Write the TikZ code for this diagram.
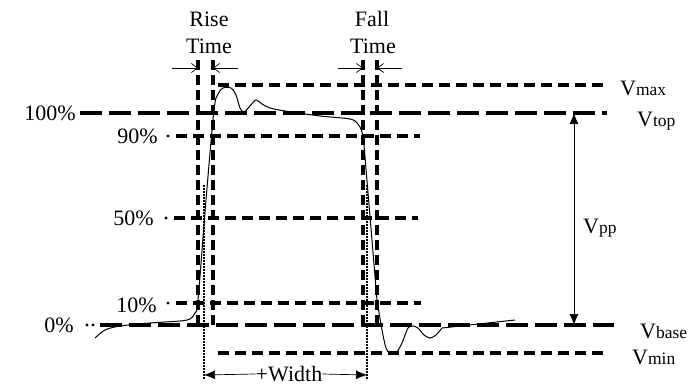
\documentclass[tikz,border=0pt]{standalone}
\usepackage{fontspec}
\setmainfont{Liberation Serif}
\usetikzlibrary{arrows.meta}
\tikzset{
  shortdash/.style={line width=3.2pt, dash pattern=on 11pt off 6pt},
  longdash/.style={line width=3.2pt, dash pattern=on 22pt off 7pt},
  vdash/.style={line width=3.2pt, dash pattern=on 10pt off 5pt},
  dotline/.style={line width=2.6pt, dash pattern=on 1.6pt off 1.4pt},
  sig/.style={line width=1pt},
  lbl/.style={font=\fontsize{22}{26}\selectfont, inner sep=0pt},
  tmarrow/.style={line width=0.7pt, -{Straight Barb[length=6pt,width=9pt]}},
  bigarrow/.style={line width=0.7pt, -{Latex[length=11pt,width=9pt]}},
}
\newcommand{\vlab}[1]{V{\fontsize{17.5}{17.5}\selectfont #1}}
\begin{document}
\begin{tikzpicture}[x=1pt,y=-1pt]
\useasboundingbox (0,0) rectangle (689,388);
% labels top
\node[lbl,anchor=base] (rise) at (209,27) {Rise};
\node[lbl,anchor=base] (riset) at (209,53) {Time};
\node[lbl,anchor=base] (fall) at (372,27) {Fall};
\node[lbl,anchor=base] (fallt) at (373,53) {Time};
% percent labels
\node[lbl,anchor=base east] (p100) at (76,120) {100\%};
\node[lbl,anchor=base east] (p90) at (158,143) {90\%};
\node[lbl,anchor=base east] (p50) at (154,225) {50\%};
\node[lbl,anchor=base east] (p10) at (157,312) {10\%};
\node[lbl,anchor=base east] (p0) at (74,332) {0\%};
% V labels
\node[lbl,anchor=base west] (vmax) at (620,95) {\vlab{max}};
\node[lbl,anchor=base west] (vtop) at (637,126) {\vlab{top}};
\node[lbl,anchor=base west] (vpp) at (583,233) {\vlab{pp}};
\node[lbl,anchor=base west] (vbase) at (640,338) {\vlab{base}};
\node[lbl,anchor=base west] (vmin) at (632,364) {\vlab{min}};
% coordinates
\coordinate (maxL) at (218,85);  \coordinate (maxR) at (605,85);
\coordinate (topL) at (80,113);  \coordinate (topR) at (607,113);
\coordinate (n90L) at (176,136); \coordinate (n90R) at (420,136);
\coordinate (n50L) at (174,218); \coordinate (n50R) at (418,218);
\coordinate (n10L) at (176,303); \coordinate (n10R) at (421,303);
\coordinate (baseL) at (100,325); \coordinate (baseR) at (614,325);
\coordinate (minL) at (218,353); \coordinate (minR) at (605,353);
% horizontal reference lines
\draw[shortdash] (maxL) -- (maxR);
\draw[longdash] (topL) -- (topR);
\draw[shortdash] (n90L) -- (n90R);
\draw[shortdash] (n50L) -- (n50R);
\draw[shortdash] (n10L) -- (n10R);
\draw[longdash] (baseL) -- (baseR);
\draw[shortdash] (minL) -- (minR);
% leading dots
\fill (168,136) circle (1.7);
\fill (166,218) circle (1.7);
\fill (168,303) circle (1.7);
\fill (87,325) circle (1.7);
\fill (93,325) circle (1.7);
% vertical dashed lines
\foreach \x/\n in {198/ra,213/rb,363/fa,377/fb}{
  \coordinate (\n t) at (\x,60);
  \coordinate (\n b) at (\x,325);
  \draw[vdash] (\n t) -- (\n b);
}
% rise/fall time arrows
\coordinate (ral) at (172,68); \coordinate (rar) at (238,68);
\coordinate (ra) at (198,68); \coordinate (rb) at (213,68);
\draw[tmarrow] (ral) -- (ra);
\draw[tmarrow] (rar) -- (rb);
\coordinate (fal) at (338,68); \coordinate (far) at (402,68);
\coordinate (fa) at (363,68); \coordinate (fb) at (377,68);
\draw[tmarrow] (fal) -- (fa);
\draw[tmarrow] (far) -- (fb);
% dotted width markers
\coordinate (w1t) at (204,185); \coordinate (w1b) at (204,380);
\coordinate (w2t) at (367,185); \coordinate (w2b) at (367,380);
\draw[dotline] (w1t) -- (w1b);
\draw[dotline] (w2t) -- (w2b);
% width arrow
\node[lbl] (width) at (289,374) {+Width};
\coordinate (w1) at (204,375); \coordinate (w2) at (367,375);
\draw[bigarrow] (width.west) -- (w1);
\draw[bigarrow] (width.east) -- (w2);
% Vpp arrow
\coordinate (pptop) at (574,113); \coordinate (ppbot) at (574,325);
\draw[line width=0.7pt, {Latex[length=11pt,width=9pt]}-{Latex[length=11pt,width=9pt]}] (pptop) -- (ppbot);
% signal
\draw[sig] plot[smooth, tension=0.5] coordinates {
 (95,338) (105,330) (120,326) (150,323) (180,321) (190,319) (195,313)
 (198,300) (206,200) (214,110) (218,94) (223,88) (231,88) (236,95)
 (240,108) (244,112) (250,106) (256,100) (262,104) (270,108) (285,111)
 (320,116) (350,119) (358,124) (362,132) (364,145)};
\draw[sig] (364,145) -- (377,300);
\draw[sig] plot[smooth, tension=0.5] coordinates {
 (377,300) (382,330) (386,348) (390,353) (396,353) (402,343) (408,328)
 (413,326) (418,328) (424,335) (430,338) (436,335) (442,328)};
\draw[sig] (442,328) -- (515,320);
\end{tikzpicture}
\end{document}
